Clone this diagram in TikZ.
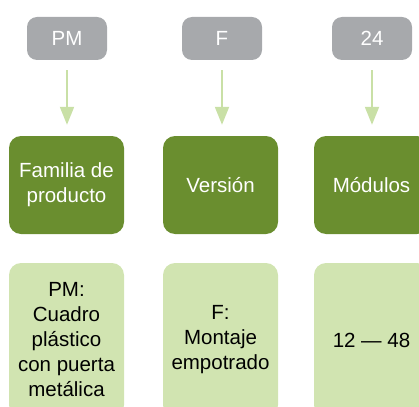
\documentclass[tikz,border=0pt]{standalone}
\usepackage{fontspec}
\setmainfont{Liberation Sans}
\usetikzlibrary{arrows.meta}
\definecolor{codegray}{HTML}{A7A9AC}
\definecolor{darkgreen}{HTML}{6A8E2F}
\definecolor{lightgreen}{HTML}{D1E4B1}
\definecolor{arrowgreen}{HTML}{C9E0A6}
\tikzset{
  codebox/.style={fill=codegray, rounded corners=10pt, minimum width=80pt, minimum height=43pt, inner sep=0pt, text=white, font=\fontsize{20.5}{25}\selectfont},
  catbox/.style={fill=darkgreen, rounded corners=12pt, minimum width=115pt, minimum height=98pt, inner sep=0pt, text=white, align=center, font=\fontsize{20.5}{25}\selectfont},
  descbox/.style={fill=lightgreen, rounded corners=12pt, minimum width=115pt, minimum height=154pt, inner sep=0pt, text=black, align=center, font=\fontsize{20.5}{25}\selectfont},
  link/.style={draw=arrowgreen, line width=2pt, -{Triangle[length=18pt,width=14pt]}, shorten <=10pt, shorten >=11pt}
}
\begin{document}
\begin{tikzpicture}[x=1pt,y=-1pt]
\useasboundingbox (0,0) rectangle (419,406);
\clip (0,0) rectangle (419,406);
\node[codebox] (c1) at (67,38.5) {PM};
\node[codebox] (c2) at (222,38.5) {F};
\node[codebox] (c3) at (372,38.5) {24};
\node[catbox] (g1) at (66.5,185) {Familia de\\producto};
\node[catbox] (g2) at (220.5,185) {Versión};
\node[catbox] (g3) at (371.5,185) {Módulos};
\node[descbox] (d1) at (66.5,340) {PM:\\Cuadro\\plástico\\con puerta\\metálica};
\node[descbox] (d2) at (220.5,340) {F:\\Montaje\\empotrado};
\node[descbox] (d3) at (371.5,340) {12 — 48};
\draw[link] (c1.south) -- (c1.south |- g1.north);
\draw[link] (c2.south) -- (c2.south |- g2.north);
\draw[link] (c3.south) -- (c3.south |- g3.north);
\end{tikzpicture}
\end{document}
